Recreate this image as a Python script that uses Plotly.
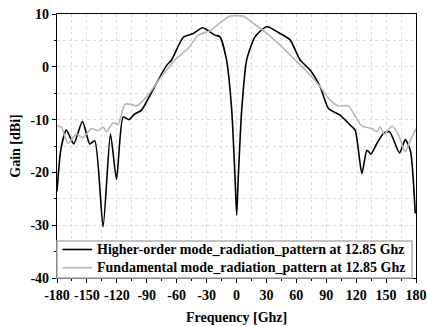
import plotly.graph_objects as go

# Higher-order mode radiation pattern (black)
ho_angle = [-180, -176, -170.6, -163.2, -154.5, -147.2, -142.1, -133.8, -126.4, -120.3,
            -113.7, -107.7, -102.6, -95.2, -83.6, -70.1, -65.1, -53.4, -43.4, -34,
            -21.6, -16.6, -10, -4.8, -1.5, 0.2, 1.8, 5.2, 10.2, 18.6, 30.3, 43.7, 53.7,
            63.8, 73.8, 83.9, 92.2, 103.9, 114, 119, 125.7, 130.8, 134.8, 140.8, 147.4,
            153.5, 163.5, 169.2, 174.3, 179.3]
ho_gain = [-23.6, -15.5, -12, -14.6, -10.3, -14.6, -14.0, -30.3, -12.75, -21.3,
           -9.5, -10.0, -9.0, -8.2, -4.3, 0.27, 1.3, 5.6, 6.3, 7.4,
           6.0, 5.7, 1.3, -8.2, -20.8, -28.1, -20.8, -8.2, 1.3, 5.7, 7.6, 6.3, 5.1,
           1.3, -0.6, -3.8, -7.9, -9.15, -11.05, -12, -20.2, -15.8, -16.5, -14.5, -12.6,
           -12.3, -16.3, -13.8, -15.8, -27.8]

# Fundamental mode radiation pattern (gray)
fm_angle = [-180, -175.6, -169, -160.5, -153.9, -145.4, -138.8, -133.8, -130.4, -123.8,
            -118.7, -112, -105.3, -100.3, -90.2, -80.2, -70.1, -60.1, -48.4, -38.4,
            -26.6, -16.6, -6.6, 0, 6.8, 16.9, 28.6, 43.7, 57.1, 70.5, 83.9, 93.9,
            102.3, 112.3, 117.3, 125.7, 135.8, 140.8, 144.1, 148.2, 155.9, 162.5,
            169.2, 174.3, 180]
fm_gain = [-11.2, -11.4, -14.5, -12.75, -13.4, -11.7, -12.1, -11.4, -12.3, -10.6,
           -10.9, -7.1, -7.1, -7.4, -5.7, -3.1, -0.6, 1.6, 3.5, 6.0,
           6.8, 8.3, 9.6, 9.7, 9.6, 8.2, 6.6, 4.1, 1.6, -0.9, -3.8, -6.3,
           -7.4, -7.4, -8.8, -11.2, -11.7, -12.3, -11.4, -12.75, -11.2, -12.9,
           -16.1, -13.9, -11.7]

series_names = ["Higher-order mode_radiation_pattern at 12.85 Ghz",
                "Fundamental mode_radiation_pattern at 12.85 Ghz"]
series_colors = ["black", "#b8b8b8"]

x_ticks = [-180, -150, -120, -90, -60, -30, 0, 30, 60, 90, 120, 150, 180]
y_ticks = [-40, -30, -20, -10, 0, 10]
x_title = "Frequency [Ghz]"
y_title = "Gain [dBi]"

font_family = "Liberation Serif, Times New Roman, serif"

fig = go.Figure()
for xs, ys, nm, col in [(ho_angle, ho_gain, series_names[0], series_colors[0]),
                        (fm_angle, fm_gain, series_names[1], series_colors[1])]:
    fig.add_trace(go.Scatter(
        x=xs, y=ys, mode="lines", name=nm, showlegend=False,
        line=dict(color=col, width=1.6, shape="spline", smoothing=0.6)))

axis_common = dict(
    showline=True, linecolor="black", linewidth=1.2, mirror=True,
    ticks="outside", ticklen=4, tickwidth=1, tickcolor="black",
    showgrid=True, gridcolor="#dcdcdc", griddash="dot", gridwidth=1,
    zeroline=False, automargin=False,
    tickfont=dict(family=font_family, size=14, color="black"),
)

# Manual legend box (inside plot area, bottom)
shapes = [dict(type="rect", xref="paper", yref="paper", x0=0.0, x1=0.989, y0=0.0, y1=0.14,
               fillcolor="white", line=dict(color="#b0b0b0", width=1.5), layer="above")]
annotations = []
row_y = [0.108, 0.039]
for i in range(2):
    shapes.append(dict(type="line", xref="paper", yref="paper", x0=0.015, x1=0.098,
                       y0=row_y[i], y1=row_y[i],
                       line=dict(color=series_colors[i], width=1.6), layer="above"))
    annotations.append(dict(xref="paper", yref="paper", x=0.107, y=row_y[i],
                            xanchor="left", yanchor="middle", showarrow=False,
                            text="<b>%s</b>" % series_names[i],
                            font=dict(family=font_family, size=14, color="black")))
annotations.append(dict(xref="paper", yref="paper", x=0.5, y=-0.148,
                        xanchor="center", yanchor="middle", showarrow=False,
                        text="<b>%s</b>" % x_title,
                        font=dict(family=font_family, size=14, color="black")))

fig.update_layout(
    width=427, height=326,
    margin=dict(l=57, r=11, t=14, b=48),
    paper_bgcolor="white", plot_bgcolor="white",
    font=dict(family=font_family, color="black"),
    showlegend=False,
    shapes=shapes, annotations=annotations,
    xaxis=dict(
        axis_common,
        range=[-180, 180], tickvals=x_ticks, ticktext=["<b>%d</b>" % v for v in x_ticks],
        minor=dict(dtick=15, tick0=0, ticks="outside", ticklen=2, tickcolor="black",
                   showgrid=True, gridcolor="#dcdcdc", griddash="dot"),
    ),
    yaxis=dict(
        axis_common,
        range=[-40, 10], tickvals=y_ticks, ticktext=["<b>%d</b>" % v for v in y_ticks],
        minor=dict(dtick=5, tick0=0, ticks="outside", ticklen=2, tickcolor="black",
                   showgrid=True, gridcolor="#dcdcdc", griddash="dot"),
        title=dict(text="<b>%s</b>" % y_title, standoff=6,
                   font=dict(family=font_family, size=14, color="black")),
    ),
)

fig.write_html("out.html")
